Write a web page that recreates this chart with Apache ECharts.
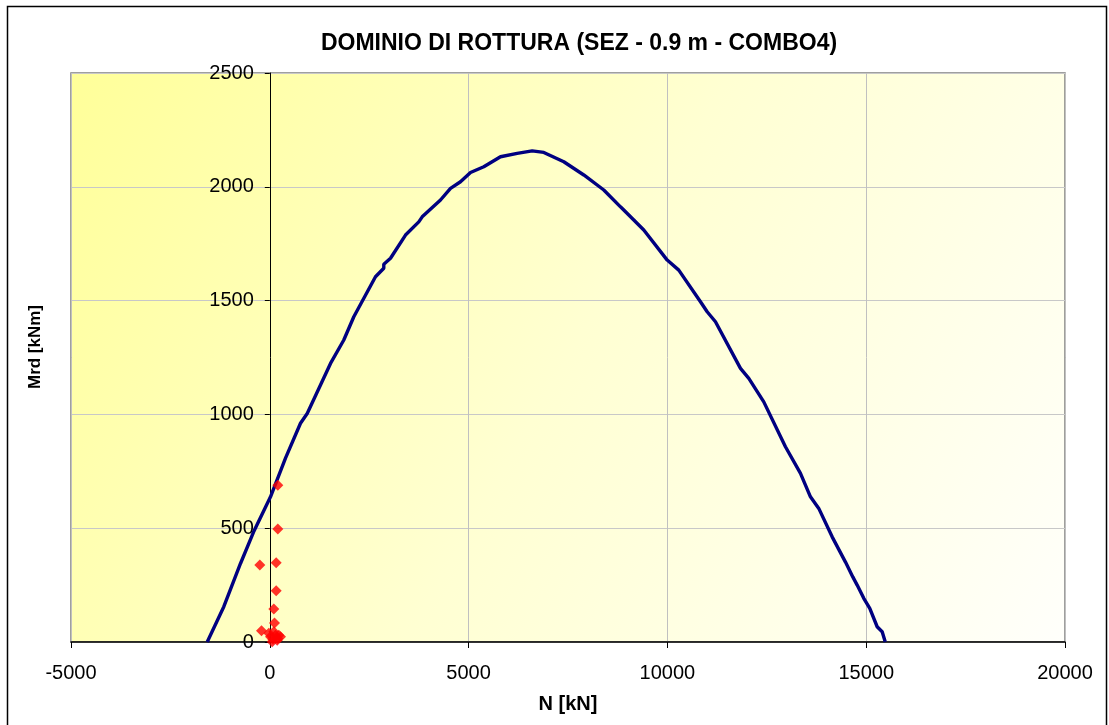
<!DOCTYPE html>
<html>
<head>
<meta charset="utf-8">
<script src="https://cdn.jsdelivr.net/npm/echarts@6/dist/echarts.min.js"></script>
<style>
html,body{margin:0;padding:0;background:#fff;}
#c{width:1109px;height:725px;}
</style>
</head>
<body>
<div id="c"></div>
<script>
// Interaction domain curve (N [kN], Mrd [kNm])
const curveN = [-1574, -1157, -737, -412, 18, 395, 772, 941, 1527, 1861, 2113, 2658, 2867, 2867, 3036, 3413, 3747, 3833, 4293, 4545, 4796, 5048, 5382, 5802, 6222, 6599, 6891, 7394, 7897, 8400, 8820, 9155, 9406, 9995, 10286, 10832, 11000, 11209, 11838, 12047, 12424, 12969, 13347, 13598, 13807, 14144, 14479, 14663, 14773, 14939, 15090, 15276, 15402, 15480];
const curveM = [0, 155, 345, 482, 638, 808, 961, 1004, 1224, 1327, 1429, 1605, 1642, 1660, 1686, 1788, 1846, 1868, 1942, 1993, 2022, 2063, 2088, 2132, 2147, 2158, 2151, 2110, 2052, 1986, 1912, 1854, 1810, 1678, 1634, 1495, 1451, 1407, 1202, 1158, 1055, 858, 741, 638, 587, 462, 351, 286, 250, 192, 148, 67, 45, 0];

// Load combinations (red diamonds)
const loadN = [201, 201, 161, -251, 161, 101, 118, -209, 143, 226, 18, 60, 186, 269, -25, 101, 80, 200];
const loadM = [689, 496, 348, 338, 225, 145, 84, 49, 30, 30, 23, 1, 8, 23, 38, 45, 12, 15];

// Axis ticks
const xTicks = { min: -5000, max: 20000, step: 5000 };
const yTicks = { min: 0, max: 2500, step: 500 };

const titleText = 'DOMINIO DI ROTTURA (SEZ - 0.9 m - COMBO4)';
const xName = 'N [kN]';
const yName = 'Mrd [kNm]';

const curveData = curveN.map((n, i) => [n, curveM[i]]);
const loadData = loadN.map((n, i) => [n, loadM[i]]);

const W = 1109, H = 725;
const gridL = 71, gridR = 44;
// y axis crosses the x axis at N = 0
const plotW = W - gridL - gridR;
const yAxisOffset = -plotW * (0 - xTicks.min) / (xTicks.max - xTicks.min);

const chart = echarts.init(document.getElementById('c'), null, { renderer: 'canvas' });
const FONT = '"Liberation Sans", Arial, sans-serif';

chart.setOption({
  animation: false,
  backgroundColor: '#ffffff',
  title: {
    text: titleText,
    left: 574,
    top: 27,
    textAlign: 'center',
    textStyle: { fontFamily: FONT, fontSize: 23, fontWeight: 'bold', color: '#000' }
  },
  graphic: [
    {
      type: 'rect',
      shape: { x: 7.5, y: 6.5, width: 1099, height: 730 },
      style: { fill: 'none', stroke: '#000', lineWidth: 1.5 },
      silent: true, z: 0
    },
    {
      type: 'text',
      x: 35, y: 347,
      rotation: Math.PI / 2,
      style: {
        text: yName, fontFamily: FONT, fontSize: 17, fontWeight: 'bold',
        fill: '#000', align: 'center', verticalAlign: 'middle'
      },
      silent: true
    }
  ],
  grid: {
    left: gridL, right: gridR, top: 73, bottom: 83,
    show: true,
    borderColor: '#808080',
    borderWidth: 1.5,
    backgroundColor: new echarts.graphic.LinearGradient(0, 0, 1, 1, [
      { offset: 0, color: '#ffff99' },
      { offset: 0.5, color: '#ffffd2' },
      { offset: 1, color: '#fffffb' }
    ])
  },
  xAxis: {
    type: 'value',
    min: xTicks.min, max: xTicks.max, interval: xTicks.step,
    name: xName,
    nameLocation: 'middle',
    nameGap: 52,
    nameTextStyle: { fontFamily: FONT, fontSize: 20, fontWeight: 'bold', color: '#000' },
    axisLine: { show: true, onZero: false, lineStyle: { color: '#000', width: 1.5 } },
    axisTick: { show: true, inside: false, length: 6, lineStyle: { color: '#000' } },
    axisLabel: { fontFamily: FONT, fontSize: 20, color: '#000', margin: 21, formatter: v => String(v) },
    splitLine: { show: true, lineStyle: { color: '#c0c0c0', width: 1 } }
  },
  yAxis: {
    type: 'value',
    min: yTicks.min, max: yTicks.max, interval: yTicks.step,
    offset: yAxisOffset,
    axisLine: { show: true, onZero: false, lineStyle: { color: '#000', width: 1 } },
    axisTick: { show: true, inside: false, length: 5, lineStyle: { color: '#000' } },
    axisLabel: { fontFamily: FONT, fontSize: 20, color: '#000', margin: 16, formatter: v => String(v) },
    splitLine: { show: true, lineStyle: { color: '#c8c8c8', width: 1 } }
  },
  series: [
    {
      type: 'line',
      data: curveData,
      showSymbol: false,
      symbol: 'none',
      smooth: false,
      lineStyle: { color: '#000080', width: 3.4 },
      itemStyle: { color: '#000080' },
      z: 3
    },
    {
      type: 'scatter',
      data: loadData,
      symbol: 'diamond',
      symbolSize: 11,
      itemStyle: { color: '#ff0000' },
      z: 4
    }
  ]
});
</script>
</body>
</html>
